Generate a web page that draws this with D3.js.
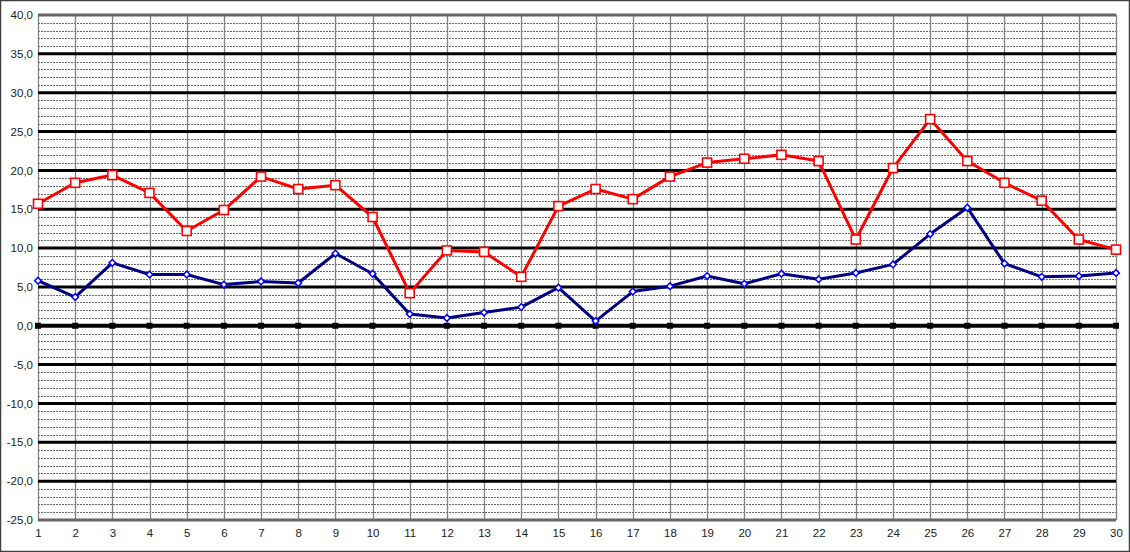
<!DOCTYPE html>
<html><head><meta charset="utf-8">
<script src="https://cdn.jsdelivr.net/npm/d3@7"></script>
<style>html,body{margin:0;padding:0;background:#fff;}svg{display:block;}</style>
</head><body>
<svg id="c" width="1130" height="552"></svg>
<script>
const days = d3.range(1, 31);
const maxTemp = [15.7,18.4,19.4,17.1,12.2,14.9,19.2,17.6,18.1,14.0,4.2,9.7,9.5,6.3,15.4,17.6,16.3,19.2,21.0,21.5,22.0,21.2,11.1,20.3,26.6,21.2,18.4,16.1,11.1,9.8];
const minTemp = [5.8,3.7,8.1,6.6,6.6,5.3,5.7,5.5,9.3,6.7,1.5,1.0,1.7,2.4,4.9,0.6,4.4,5.1,6.4,5.4,6.7,6.0,6.8,7.9,11.8,15.2,8.0,6.3,6.4,6.8];
const zeroLine = days.map(() => 0);
const yTicks = d3.range(-25, 41, 5);
const minorTicks = d3.range(-25, 41, 1).filter(v => v % 5 !== 0);

(function () {
const svg = d3.select("#c");
const W = 1130, H = 552;
const pL = 38, pR = 1116, pT = 15, pB = 520;
const x = d3.scaleLinear().domain([1, 30]).range([pL, pR]);
const y = d3.scaleLinear().domain([-25, 40]).range([pB, pT]);

svg.append("rect").attr("x", 0.5).attr("y", 0.5).attr("width", W - 1).attr("height", H - 1)
  .attr("fill", "#fff").attr("stroke", "#404040").attr("stroke-width", 1.5);

const g = svg.append("g");

g.selectAll(".minor").data(minorTicks).join("line")
  .attr("x1", pL).attr("x2", pR)
  .attr("y1", d => Math.round(y(d)) + 0.5).attr("y2", d => Math.round(y(d)) + 0.5)
  .attr("stroke", "#666").attr("stroke-width", 1).attr("stroke-dasharray", "2,1");

g.selectAll(".vgrid").data(days).join("line")
  .attr("x1", d => Math.round(x(d)) + 0.5).attr("x2", d => Math.round(x(d)) + 0.5)
  .attr("y1", pT).attr("y2", pB)
  .attr("stroke", "#808080").attr("stroke-width", 1.3);

g.selectAll(".major").data(yTicks.filter(v => v !== 0 && v !== 40 && v !== -25)).join("line")
  .attr("x1", pL).attr("x2", pR)
  .attr("y1", d => y(d)).attr("y2", d => y(d))
  .attr("stroke", "#000").attr("stroke-width", 3);

g.append("line").attr("x1", pL).attr("x2", pR).attr("y1", y(40)).attr("y2", y(40))
  .attr("stroke", "#666").attr("stroke-width", 3);
g.append("line").attr("x1", pL).attr("x2", pR).attr("y1", y(-25)).attr("y2", y(-25))
  .attr("stroke", "#666").attr("stroke-width", 3);

g.append("line").attr("x1", pL).attr("x2", pR).attr("y1", y(0)).attr("y2", y(0))
  .attr("stroke", "#000").attr("stroke-width", 4);
g.selectAll(".zm").data(zeroLine).join("rect")
  .attr("x", (d, i) => x(days[i]) - 3).attr("y", d => y(d) - 3)
  .attr("width", 6).attr("height", 6).attr("fill", "#000");

const yAxis = d3.axisLeft(y).tickValues(yTicks).tickSize(0).tickPadding(5)
  .tickFormat(d => d3.format(".1f")(d).replace(".", ",").replace("\u2212", "-"));
const ya = svg.append("g").attr("transform", `translate(${pL},0)`).call(yAxis);
ya.select(".domain").remove();
ya.selectAll("text").attr("font-family", "Liberation Sans, Arial, sans-serif").attr("font-size", 11.5).attr("fill", "#222");

const xAxis = d3.axisBottom(x).tickValues(days).tickSize(0).tickPadding(9).tickFormat(d3.format("d"));
const xa = svg.append("g").attr("transform", `translate(0,${pB})`).call(xAxis);
xa.select(".domain").remove();
xa.selectAll("text").attr("font-family", "Liberation Sans, Arial, sans-serif").attr("font-size", 11.5).attr("fill", "#222");

const line = d3.line().x((d, i) => x(days[i])).y(d => y(d));
svg.append("path").datum(minTemp).attr("d", line).attr("fill", "none")
  .attr("stroke", "#000080").attr("stroke-width", 3).attr("stroke-linejoin", "round");
svg.append("path").datum(maxTemp).attr("d", line).attr("fill", "none")
  .attr("stroke", "#ff0000").attr("stroke-width", 3).attr("stroke-linejoin", "round");

svg.selectAll(".minm").data(minTemp).join("path")
  .attr("d", d3.symbol().type(d3.symbolSquare).size(22))
  .attr("transform", (d, i) => `translate(${x(days[i])},${y(d)}) rotate(45)`)
  .attr("fill", "#fff").attr("stroke", "#0000ff").attr("stroke-width", 1.5);
svg.selectAll(".maxm").data(maxTemp).join("rect")
  .attr("x", (d, i) => x(days[i]) - 4.5).attr("y", d => y(d) - 4.5)
  .attr("width", 9).attr("height", 9)
  .attr("fill", "#fff").attr("stroke", "#ff0000").attr("stroke-width", 1.6);
})();
</script>
</body></html>
